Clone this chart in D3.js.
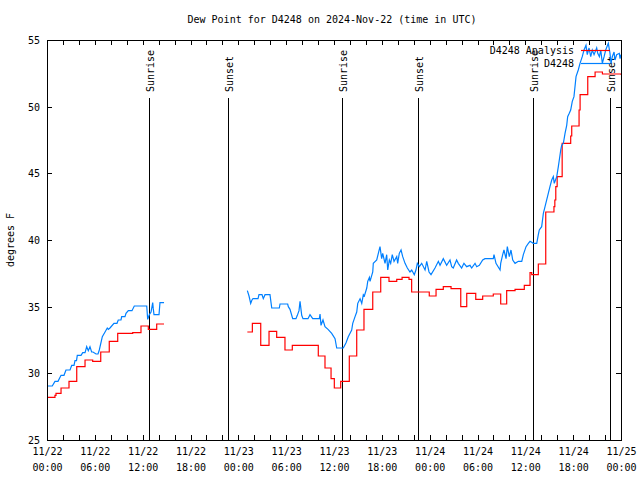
<!DOCTYPE html>
<html><head><meta charset="utf-8">
<script src="https://cdn.jsdelivr.net/npm/d3@7"></script>
<style>
body{margin:0;background:#fff;}
svg{display:block;}
text{font-family:"DejaVu Sans Mono","Liberation Mono",monospace;font-size:10px;fill:#000;}
</style></head><body>
<svg id="c" width="640" height="480"></svg>
<script>
// hours since 2024-11-22 00:00 UTC
const title = "Dew Point for D4248 on 2024-Nov-22 (time in UTC)";
const yLabel = "degrees F";
const yTicks = [25, 30, 35, 40, 45, 50, 55];
const xTickHours = [0, 6, 12, 18, 24, 30, 36, 42, 48, 54, 60, 66, 72];
const sunriseHours = [12.85, 36.95, 61.0];
const sunsetHours = [22.65, 46.58, 70.66];

// D4248 observations (blue), two segments
const obsHours1 = [0,0.66,1.0,1.38,1.76,2.13,2.38,2.89,3.1,3.39,3.51,3.7,3.8,4.27,4.48,4.77,4.98,5.18,5.39,5.6,5.77,6.15,6.4,6.56,6.94,7.28,7.56,7.69,7.9,8.4,8.78,8.94,9.28,9.37,9.78,9.91,10.2,10.66,10.95,12.51,12.63,12.83,13.05,13.26,13.33,13.42,14.05,14.17,14.68];
const obsValues1 = [29.05,29.05,29.4,29.4,29.85,29.85,30.25,30.25,30.6,30.6,30.95,30.95,31.35,31.35,31.55,31.55,32.0,31.7,32.0,31.6,31.6,31.45,31.45,31.75,32.75,33.1,33.4,33.3,33.4,33.75,33.75,34.0,34.0,34.25,34.25,34.5,34.7,34.7,35.05,35.05,34.05,34.4,34.6,35.3,34.85,34.4,34.4,35.3,35.3];
const obsHours2 = [25.13,25.34,25.55,25.71,25.84,26.47,26.59,26.97,27.13,27.35,27.97,28.19,29.14,29.23,30.19,30.27,30.48,30.82,31.23,31.4,31.61,31.74,31.95,32.11,32.74,32.99,33.33,34.16,34.25,34.37,34.62,34.87,35.25,35.71,36.13,36.34,37.17,37.51,37.79,38.22,38.35,38.64,38.85,38.98,39.27,39.48,39.68,39.81,40.11,40.23,40.44,40.52,40.86,40.93,41.36,41.56,41.77,41.98,42.11,42.4,42.61,42.74,42.94,43.11,43.31,43.53,43.87,43.99,44.19,44.41,44.62,44.91,45.2,45.53,45.75,46.07,46.28,46.45,46.7,47.0,47.42,47.63,47.92,48.17,48.67,49.09,49.3,49.71,50.13,50.55,50.76,50.96,51.38,51.59,52.01,52.3,52.64,53.06,53.27,53.69,53.9,54.23,54.65,54.94,55.98,56.07,56.32,56.83,56.91,57.16,57.32,57.58,57.74,57.99,58.2,58.42,58.71,59.12,59.55,59.75,60.09,60.38,60.59,61.0,61.43,61.63,61.75,62.05,62.26,62.47,62.88,63.09,63.31,63.51,63.63,63.94,64.14,64.26,64.44,64.56,64.77,64.98,65.19,65.31,65.51,65.69,65.89,66.1,66.36,66.64,66.86,67.14,67.36,67.61,67.77,67.99,68.2,68.4,68.62,68.95,69.08,69.29,69.46,69.66,69.88,70.08,70.41,70.62,70.75,70.91,71.13,71.25,71.46,71.79,71.88,72.0];
const obsValues2 = [36.2,35.8,35.25,35.5,35.6,35.6,35.9,35.9,35.6,35.9,35.9,34.9,34.9,35.2,35.2,35.0,34.8,34.1,34.1,34.35,34.7,35.4,34.35,34.1,34.1,34.4,34.1,34.1,34.45,33.6,34.0,33.5,33.3,33.0,32.6,31.9,31.9,32.3,32.75,33.25,33.75,34.25,34.6,35.25,35.6,35.25,35.9,35.8,36.4,36.9,37.2,36.9,37.6,38.25,38.5,39.0,39.5,38.6,39.0,38.25,38.9,37.75,38.5,38.25,38.9,38.4,38.75,38.25,39.0,39.25,38.75,38.25,37.9,37.6,37.75,37.4,37.75,38.25,38.0,38.25,37.75,38.4,37.6,37.4,37.9,38.4,38.1,38.6,38.1,38.5,38.0,37.9,38.5,38.25,37.9,38.25,38.0,38.1,37.9,38.25,38.0,38.1,38.5,38.6,38.6,38.9,38.25,37.75,38.25,38.9,39.25,38.6,39.5,38.75,39.25,38.5,38.25,38.4,38.4,38.9,39.5,39.75,39.9,39.75,39.75,40.4,40.75,41.0,42.0,42.5,43.5,44.0,44.5,44.75,44.25,44.75,45.5,46.0,46.75,47.1,47.25,48.0,48.6,49.25,49.5,49.75,50.4,50.75,52.25,52.75,53.25,53.75,54.25,54.6,53.9,54.4,53.75,54.25,53.9,54.4,54.0,53.75,54.25,53.25,53.75,54.25,54.75,54.0,53.25,53.75,54.1,53.5,53.9,54.0,53.6,53.9];

// D4248 Analysis (red), step values, two segments
const anaHours1 = [0,1.0,1.13,1.76,2.76,3.73,4.77,5.73,6.74,7.81,8.87,10.75,11.79,12.71,13.76,14.68];
const anaValues1 = [28.2,28.35,28.5,28.9,29.4,30.5,31.0,30.9,31.6,32.4,33.0,33.05,33.55,33.3,33.7,33.7];
const anaHours2 = [25.13,25.76,26.81,27.85,28.81,29.85,30.77,34.03,34.87,35.63,36.04,36.84,37.92,38.85,39.76,40.86,41.86,42.9,43.87,44.54,45.41,45.74,47.95,48.8,49.71,50.68,51.9,52.65,53.78,54.65,55.98,56.91,57.66,58.71,59.87,60.59,60.8,61.63,62.56,63.59,63.7,63.82,63.99,64.62,65.69,65.82,66.74,66.87,67.83,68.75,69.67,72.0];
const anaValues2 = [33.1,33.75,32.1,33.15,32.7,31.75,32.1,31.3,30.4,29.6,28.9,29.4,31.3,33.25,34.8,36.1,37.2,36.9,37.05,37.2,37.05,36.1,35.8,36.3,36.5,36.35,35.0,36.0,35.55,35.8,35.95,35.2,36.2,36.3,36.6,37.55,37.4,38.2,42.1,42.5,43.0,44.0,44.75,47.25,47.8,48.55,49.75,50.9,52.25,52.6,52.45,52.4];

const seriesNames = ["D4248 Analysis", "D4248"];
const seriesColors = ["#ff0000", "#0080ff"];

const svg = d3.select("#c");
const m = {l:47, r:621, t:40, b:440};
const t0 = Date.UTC(2024,10,22,0,0);
const toDate = h => new Date(t0 + h*3600e3);
const x = d3.scaleUtc().domain([toDate(0), toDate(72)]).range([m.l, m.r]);
const y = d3.scaleLinear().domain([25,55]).range([m.b, m.t]);

const zip = (hs, vs) => hs.map((h,i)=>({t:toDate(h), v:vs[i]}));

// ticks (inward, on all four sides)
const minorHours = d3.range(0, 73, 2);
const tg = svg.append("g").attr("stroke","#000").attr("stroke-width",1).attr("shape-rendering","crispEdges");
minorHours.forEach(h=>{
  const xx = Math.round(x(toDate(h)))+0.5;
  tg.append("line").attr("x1",xx).attr("x2",xx).attr("y1",m.b).attr("y2",m.b-5);
  tg.append("line").attr("x1",xx).attr("x2",xx).attr("y1",m.t).attr("y2",m.t+5);
});
yTicks.forEach(v=>{
  const yy = Math.round(y(v))+0.5;
  tg.append("line").attr("x1",m.l).attr("x2",m.l+5).attr("y1",yy).attr("y2",yy);
  tg.append("line").attr("x1",m.r).attr("x2",m.r-5).attr("y1",yy).attr("y2",yy);
});

// axis labels via d3 axes (lines hidden)
const fmtD = d3.utcFormat("%m/%d"), fmtT = d3.utcFormat("%H:%M");
const xa = svg.append("g").attr("transform",`translate(0,${m.b})`)
  .call(d3.axisBottom(x).tickValues(xTickHours.map(toDate)).tickSize(0).tickPadding(0).tickFormat(""));
xa.select(".domain").remove();
xa.selectAll(".tick").each(function(d){
  const g = d3.select(this);
  g.append("text").attr("y",15).attr("text-anchor","middle").text(fmtD(d));
  g.append("text").attr("y",31).attr("text-anchor","middle").text(fmtT(d));
});
const ya = svg.append("g").attr("transform",`translate(${m.l},0)`)
  .call(d3.axisLeft(y).tickValues(yTicks).tickSize(0).tickPadding(7).tickFormat(d3.format("d")));
ya.select(".domain").remove();
ya.selectAll("text").attr("font-family",null).attr("font-size",null).attr("dy","0.35em");

// sunrise / sunset lines
const sun = sunriseHours.map(h=>({h, label:"Sunrise"})).concat(sunsetHours.map(h=>({h,label:"Sunset"})));
sun.forEach(s=>{
  const xx = Math.round(x(toDate(s.h)))+0.5;
  svg.append("line").attr("x1",xx).attr("x2",xx).attr("y1",98).attr("y2",m.b)
    .attr("stroke","#000").attr("stroke-width",1).attr("shape-rendering","crispEdges");
  svg.append("text").attr("transform",`translate(${xx+0.5},92) rotate(-90)`)
    .attr("dy","0.35em").attr("text-anchor","start").text(s.label);
});

// data lines
const lineLin = d3.line().x(d=>x(d.t)).y(d=>y(d.v));
const lineStep = d3.line().x(d=>x(d.t)).y(d=>y(d.v)).curve(d3.curveStepAfter);
[zip(anaHours1,anaValues1), zip(anaHours2,anaValues2)].forEach(s=>{
  svg.append("path").datum(s).attr("d",lineStep).attr("fill","none").attr("stroke",seriesColors[0]).attr("stroke-width",1.2);
});
[zip(obsHours1,obsValues1), zip(obsHours2,obsValues2)].forEach(s=>{
  svg.append("path").datum(s).attr("d",lineLin).attr("fill","none").attr("stroke",seriesColors[1]).attr("stroke-width",1.2);
});

// frame
svg.append("rect").attr("x",m.l+0.5).attr("y",m.t+0.5).attr("width",m.r-m.l).attr("height",m.b-m.t)
  .attr("fill","none").attr("stroke","#000").attr("stroke-width",1).attr("shape-rendering","crispEdges");

// legend
seriesNames.forEach((n,i)=>{
  const yy = 50 + i*13;
  svg.append("text").attr("x",574).attr("y",yy).attr("dy","0.35em").attr("text-anchor","end").text(n);
  svg.append("line").attr("x1",581).attr("x2",610).attr("y1",yy+0.5).attr("y2",yy+0.5)
    .attr("stroke",seriesColors[i]).attr("stroke-width",1.2);
});

// title and y label
svg.append("text").attr("x",332).attr("y",19).attr("dy","0.35em").attr("text-anchor","middle").text(title);
svg.append("text").attr("transform","translate(10,240) rotate(-90)").attr("dy","0.35em").attr("text-anchor","middle").text(yLabel);
</script>
</body></html>
